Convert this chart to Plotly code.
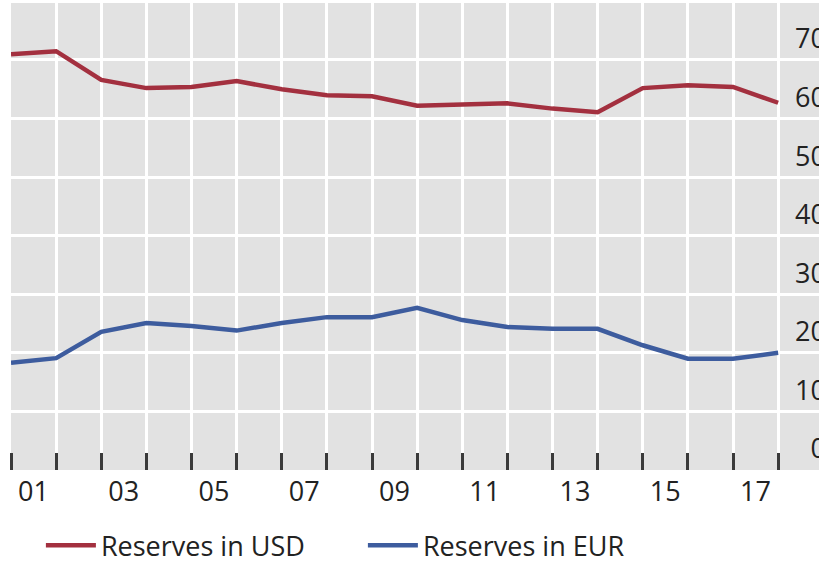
import plotly.graph_objects as go

# Year-end currency shares of global FX reserves (%), 2000-2017
years = list(range(2000, 2018))
usd_share = [71.0, 71.5, 66.6, 65.2, 65.4, 66.4, 65.0, 64.0, 63.8, 62.2,
             62.4, 62.6, 61.7, 61.1, 65.2, 65.7, 65.4, 62.7]
eur_share = [18.3, 19.1, 23.6, 25.1, 24.6, 23.8, 25.1, 26.1, 26.1, 27.7,
             25.6, 24.4, 24.1, 24.1, 21.3, 19.0, 19.0, 20.0]

# Labels sit in the middle of odd years; ticks mark the year boundaries
label_years = list(range(2001, 2018, 2))
label_text = [f"{y % 100:02d}" for y in label_years]
boundary_years = list(range(2001, 2019))
y_ticks = list(range(0, 80, 10))

# End-of-year values are placed on the boundary that closes the year
x_pos = [y + 1 for y in years]

FONT = "Open Sans"
TEXT = "#222222"
SIZE = 27

fig = go.Figure()
fig.add_trace(go.Scatter(
    x=x_pos, y=usd_share, mode="lines", name="Reserves in USD",
    line=dict(color="#a3303f", width=4.5),
))
fig.add_trace(go.Scatter(
    x=x_pos, y=eur_share, mode="lines", name="Reserves in EUR",
    line=dict(color="#3d5c9e", width=4.5),
))

fig.update_layout(
    width=819, height=561,
    margin=dict(l=11, r=0, t=3, b=91, autoexpand=False),
    paper_bgcolor="white",
    plot_bgcolor="#e2e2e2",
    font=dict(family=FONT, size=SIZE, color=TEXT),
    showlegend=True,
    legend=dict(
        orientation="h", x=0.037, xanchor="left", y=-0.162, yanchor="middle",
        font=dict(family=FONT, size=SIZE, color=TEXT),
        entrywidth=257, entrywidthmode="pixels",
        bgcolor="rgba(0,0,0,0)", itemwidth=50,
    ),
    xaxis=dict(
        range=[2001, 2001 + 808 / 45.125],
        tickmode="array", tickvals=[y + 0.5 for y in label_years],
        ticktext=label_text, ticks="", showgrid=False, zeroline=False,
        showline=False, tickfont=dict(size=SIZE, color=TEXT),
        ticklabelstandoff=3, automargin=False,
        minor=dict(
            tickmode="array", tickvals=boundary_years,
            ticks="inside", ticklen=17, tickwidth=3, tickcolor="#3a3a3a",
            showgrid=True, gridcolor="white", gridwidth=3,
        ),
        fixedrange=True,
    ),
    yaxis=dict(
        range=[0, 79.73], side="right",
        tickmode="array", tickvals=y_ticks,
        ticktext=[str(v) for v in y_ticks],
        ticks="", showgrid=True, gridcolor="white", gridwidth=3,
        zeroline=False, showline=False, automargin=False,
        ticklabelposition="inside", ticklabelshift=-21, ticklabelstandoff=-10,
        tickfont=dict(size=SIZE, color=TEXT),
        fixedrange=True,
    ),
)

fig.write_html("out.html")
